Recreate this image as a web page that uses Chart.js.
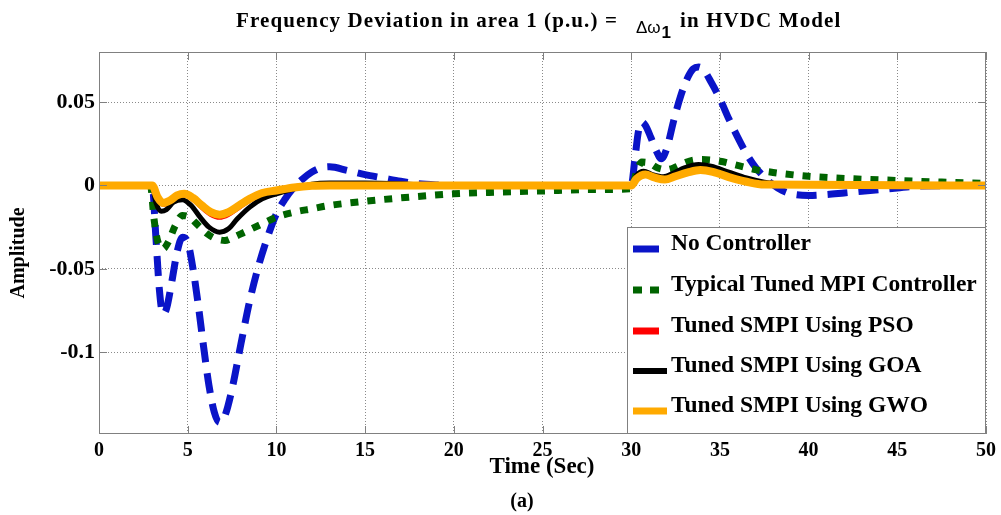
<!DOCTYPE html>
<html><head><meta charset="utf-8">
<script src="https://cdn.jsdelivr.net/npm/chart.js@4.4.1/dist/chart.umd.min.js"></script>
<style>html,body{margin:0;padding:0;background:#fff;overflow:hidden}#wrap{width:1001px;height:515px}</style>
</head><body><div id="wrap"><canvas id="c" width="1001" height="515"></canvas></div>
<script>
// ---------- data ----------
const seriesLabels = ['No Controller', 'Typical Tuned MPI Controller', 'Tuned SMPI Using PSO', 'Tuned SMPI Using GOA', 'Tuned SMPI Using GWO'];
const xTicks = [0, 5, 10, 15, 20, 25, 30, 35, 40, 45, 50];
const xTickLabels = ['0', '5', '10', '15', '20', '25', '30', '35', '40', '45', '50'];
const yTicks = [-0.1, -0.05, 0, 0.05];
const yTickLabels = ['-0.1', '-0.05', '0', '0.05'];

const tNo = [0, 3, 3.2, 3.4, 3.6, 3.8, 4.1, 4.4, 4.7, 5.0, 5.3, 5.6, 5.9, 6.2, 6.5, 6.8, 7.1, 7.5, 8.0, 8.5, 9.0, 9.5, 10.0, 10.5, 11.0, 11.5, 12.0, 12.5, 13.0, 14.0, 15.0, 16.0, 17.0, 18.0, 19.0, 20, 30, 30.2, 30.4, 30.6, 30.8, 31.1, 31.4, 31.7, 32.0, 32.4, 32.8, 33.2, 33.5, 33.8, 34.1, 34.5, 35.0, 35.5, 36.0, 36.5, 37.0, 37.5, 38.0, 38.5, 39.0, 40.0, 41.0, 42.0, 43.0, 44.0, 45.0, 46.0, 50];
const vNo = [0, 0, -0.03, -0.062, -0.077, -0.074, -0.058, -0.04, -0.031, -0.034, -0.05, -0.072, -0.097, -0.12, -0.136, -0.142, -0.138, -0.122, -0.095, -0.069, -0.048, -0.031, -0.017, -0.008, -0.001, 0.004, 0.008, 0.0105, 0.0112, 0.009, 0.0065, 0.0045, 0.0025, 0.001, 0.0003, 0, 0, 0.015, 0.032, 0.038, 0.036, 0.029, 0.021, 0.016, 0.022, 0.039, 0.054, 0.065, 0.07, 0.071, 0.069, 0.062, 0.052, 0.04, 0.029, 0.019, 0.011, 0.005, 0.0005, -0.003, -0.005, -0.006, -0.0055, -0.0045, -0.0035, -0.0025, -0.0015, -0.0005, 0];

const tMpi = [0, 2.9, 3.1, 3.3, 3.6, 3.9, 4.3, 4.7, 5.1, 5.6, 6.1, 6.6, 7.1, 7.6, 8.2, 9, 10, 11, 12, 13, 15, 17.5, 20, 22.5, 25, 27.5, 30, 30.3, 30.6, 31, 31.5, 32, 32.5, 33, 33.5, 34, 35, 36, 37, 38, 40, 42.5, 45, 47.5, 50];
const vMpi = [0, 0, -0.02, -0.033, -0.038, -0.034, -0.024, -0.018, -0.019, -0.024, -0.029, -0.032, -0.033, -0.031, -0.028, -0.024, -0.019, -0.016, -0.014, -0.012, -0.0095, -0.007, -0.005, -0.004, -0.0033, -0.0025, -0.002, 0.008, 0.014, 0.0135, 0.0105, 0.0095, 0.011, 0.0135, 0.0152, 0.0155, 0.0145, 0.012, 0.0095, 0.0078, 0.0055, 0.004, 0.003, 0.002, 0.0012];

const tPso = [0, 3, 3.3, 3.6, 4.0, 4.4, 4.8, 5.3, 5.8, 6.3, 6.8, 7.3, 7.9, 8.5, 9.2, 10, 11, 12, 13, 30, 30.3, 30.8, 31.3, 31.9, 32.5, 33.2, 33.9, 34.6, 35.5, 36.5, 37.5, 50];
const vPso = [0, 0, -0.0075, -0.011, -0.0095, -0.0065, -0.0055, -0.008, -0.0128, -0.017, -0.0188, -0.017, -0.0128, -0.0085, -0.005, -0.0028, -0.001, -0.0002, 0, 0, 0.0042, 0.0068, 0.005, 0.0037, 0.0058, 0.008, 0.0095, 0.0085, 0.0052, 0.0024, 0.0006, 0];

const tGoa = [0, 3, 3.2, 3.5, 3.8, 4.2, 4.7, 5.2, 5.7, 6.2, 6.8, 7.3, 7.8, 8.5, 9.2, 10, 11, 12, 13, 15, 17, 18.5, 20, 30, 30.3, 30.7, 31.2, 31.8, 32.4, 33, 33.8, 34.5, 35.5, 36.5, 37.5, 38.5, 40, 50];
const vGoa = [0, 0, -0.01, -0.0155, -0.0145, -0.01, -0.0085, -0.012, -0.019, -0.025, -0.028, -0.026, -0.02, -0.013, -0.008, -0.005, -0.002, 0.0008, 0.0015, 0.0015, 0.001, 0.0002, 0, 0, 0.006, 0.0085, 0.0065, 0.0052, 0.0075, 0.0105, 0.0125, 0.0115, 0.008, 0.0045, 0.002, 0.0008, 0.0002, 0];

const tGwo = [0, 3, 3.3, 3.6, 4.0, 4.4, 4.8, 5.3, 5.8, 6.3, 6.8, 7.3, 7.9, 8.5, 9.2, 10, 11, 12, 13, 30, 30.3, 30.8, 31.3, 31.9, 32.5, 33.2, 33.9, 34.6, 35.5, 36.5, 37.5, 50];
const vGwo = [0, 0, -0.007, -0.0105, -0.009, -0.006, -0.005, -0.0075, -0.012, -0.016, -0.0175, -0.016, -0.012, -0.008, -0.0045, -0.003, -0.0012, -0.0002, 0, 0, 0.004, 0.0065, 0.0048, 0.0035, 0.0055, 0.0078, 0.0092, 0.0082, 0.005, 0.0022, 0.0005, 0];

// ---------- build ----------
const pts = (t, v) => t.map((x, i) => ({x: x, y: v[i]}));
const SERIF = '"Liberation Serif", "Times New Roman", serif';
const SANS = '"Liberation Sans", Arial, sans-serif';

const datasets = [
  {label: seriesLabels[0], data: pts(tNo, vNo), borderColor: '#0a14c8', borderWidth: 7, borderDash: [20, 11], order: 5, legendLen: 26},
  {label: seriesLabels[1], data: pts(tMpi, vMpi), borderColor: '#006400', borderWidth: 7, borderDash: [8, 9], order: 4, legendLen: 26},
  {label: seriesLabels[2], data: pts(tPso, vPso), borderColor: '#ff0000', borderWidth: 6, borderDash: [], order: 3, legendLen: 26},
  {label: seriesLabels[3], data: pts(tGoa, vGoa), borderColor: '#000000', borderWidth: 5, borderDash: [], order: 2, legendLen: 34},
  {label: seriesLabels[4], data: pts(tGwo, vGwo), borderColor: '#ffaa00', borderWidth: 8, borderDash: [], order: 1, legendLen: 34}
].map(d => Object.assign(d, {pointRadius: 0, fill: false, cubicInterpolationMode: 'monotone', borderJoinStyle: 'round', borderCapStyle: 'butt'}));

const decor = {
  id: 'decor',
  afterDatasetsDraw(chart) {
    const {ctx, chartArea: a, scales: {x, y}} = chart;
    ctx.save();
    ctx.strokeStyle = '#808080';
    ctx.lineWidth = 1;
    ctx.setLineDash([]);
    ctx.beginPath();
    xTicks.forEach(v => {
      const px = Math.round(x.getPixelForValue(v)) + 0.5;
      ctx.moveTo(px, a.bottom); ctx.lineTo(px, a.bottom - 8);
      ctx.moveTo(px, a.top); ctx.lineTo(px, a.top + 8);
    });
    yTicks.forEach(v => {
      const py = Math.round(y.getPixelForValue(v)) + 0.5;
      ctx.moveTo(a.left, py); ctx.lineTo(a.left + 8, py);
      ctx.moveTo(a.right, py); ctx.lineTo(a.right - 8, py);
    });
    ctx.stroke();
    ctx.strokeRect(Math.round(a.left) + 0.5, Math.round(a.top) + 0.5, Math.round(a.width) - 1, Math.round(a.height) - 1);

    // legend box inside plot, bottom right
    const lx = 627, ly = 227, lr = Math.round(a.right), lb = Math.round(a.bottom);
    ctx.fillStyle = '#fff';
    ctx.fillRect(lx, ly, lr - lx, lb - ly);
    ctx.strokeStyle = '#808080';
    ctx.strokeRect(lx + 0.5, ly + 0.5, lr - lx - 1, lb - ly - 1);
    const rowY = [244, 285, 326, 366, 406];
    chart.data.datasets.forEach((d, i) => {
      const cy = rowY[i] + 5;
      ctx.save();
      ctx.strokeStyle = d.borderColor;
      ctx.lineWidth = d.borderWidth === 8 ? 7 : (d.borderWidth === 5 ? 6 : 7);
      ctx.setLineDash(i === 1 ? [9, 8] : []);
      ctx.beginPath();
      ctx.moveTo(633, cy); ctx.lineTo(633 + d.legendLen, cy);
      ctx.stroke();
      ctx.restore();
      ctx.fillStyle = '#000';
      ctx.font = 'bold 23.5px ' + SERIF;
      ctx.textAlign = 'left';
      ctx.textBaseline = 'middle';
      ctx.fillText(d.label, 671, rowY[i]);
    });
    ctx.restore();
  },
  afterDraw(chart) {
    const ctx = chart.ctx;
    ctx.save();
    ctx.fillStyle = '#000';
    ctx.textBaseline = 'alphabetic';
    ctx.textAlign = 'left';
    // title
    const p1 = 'Frequency Deviation in area 1 (p.u.) =';
    const p2 = '\u0394\u03c9';
    const p3 = '1';
    const p4 = 'in HVDC Model';
    const f1 = 'bold 21px ' + SERIF, f2 = '17px ' + SANS, f3 = 'bold 17px ' + SANS;
    let xx = 236;
    ctx.letterSpacing = '1.1px';
    ctx.font = f1; ctx.fillText(p1, xx, 27); xx += ctx.measureText(p1).width + 18;
    ctx.letterSpacing = '0px';
    ctx.font = f2; ctx.fillText(p2, xx, 33); xx += ctx.measureText(p2).width + 1;
    ctx.font = f3; ctx.fillText(p3, xx, 38); xx += ctx.measureText(p3).width + 9;
    ctx.letterSpacing = '1.1px';
    ctx.font = f1; ctx.fillText(p4, xx, 27);
    ctx.letterSpacing = '0px';
    // x title
    ctx.textAlign = 'center';
    ctx.textBaseline = 'middle';
    ctx.font = 'bold 23px ' + SERIF;
    ctx.fillText('Time (Sec)', 542, 467);
    ctx.font = 'bold 20px ' + SERIF;
    ctx.fillText('(a)', 522, 502);
    // y title
    ctx.translate(19, 253);
    ctx.rotate(-Math.PI / 2);
    ctx.font = 'bold 20px ' + SERIF;
    ctx.fillText('Amplitude', 0, 0);
    ctx.restore();
  }
};

new Chart(document.getElementById('c'), {
  type: 'line',
  data: {datasets: datasets},
  options: {
    responsive: false,
    animation: false,
    devicePixelRatio: 1,
    layout: {padding: {top: 52, right: 13, left: 0, bottom: 0}},
    plugins: {legend: {display: false}, tooltip: {enabled: false}, title: {display: false}},
    scales: {
      x: {
        type: 'linear', min: 0, max: 50,
        afterBuildTicks: s => { s.ticks = xTicks.map(v => ({value: v})); },
        afterFit: s => { s.height = 81; },
        ticks: {
          autoSkip: false, maxRotation: 0, padding: 5, color: '#000',
          font: {family: SERIF, weight: 'bold', size: 20},
          callback: v => { const i = xTicks.indexOf(v); return i >= 0 ? xTickLabels[i] : ''; }
        },
        grid: {color: '#8a8a8a', lineWidth: 1, drawTicks: false},
        border: {display: false, dash: [1, 2]}
      },
      y: {
        type: 'linear', min: -0.149, max: 0.08,
        afterBuildTicks: s => { s.ticks = yTicks.map(v => ({value: v})); },
        afterFit: s => { s.width = 99; },
        ticks: {
          autoSkip: false, padding: 4, color: '#000',
          font: {family: SERIF, weight: 'bold', size: 22},
          callback: v => { const i = yTicks.indexOf(v); return i >= 0 ? yTickLabels[i] : ''; }
        },
        grid: {color: '#8a8a8a', lineWidth: 1, drawTicks: false},
        border: {display: false, dash: [1, 2]}
      }
    }
  },
  plugins: [decor]
});
</script></body></html>
